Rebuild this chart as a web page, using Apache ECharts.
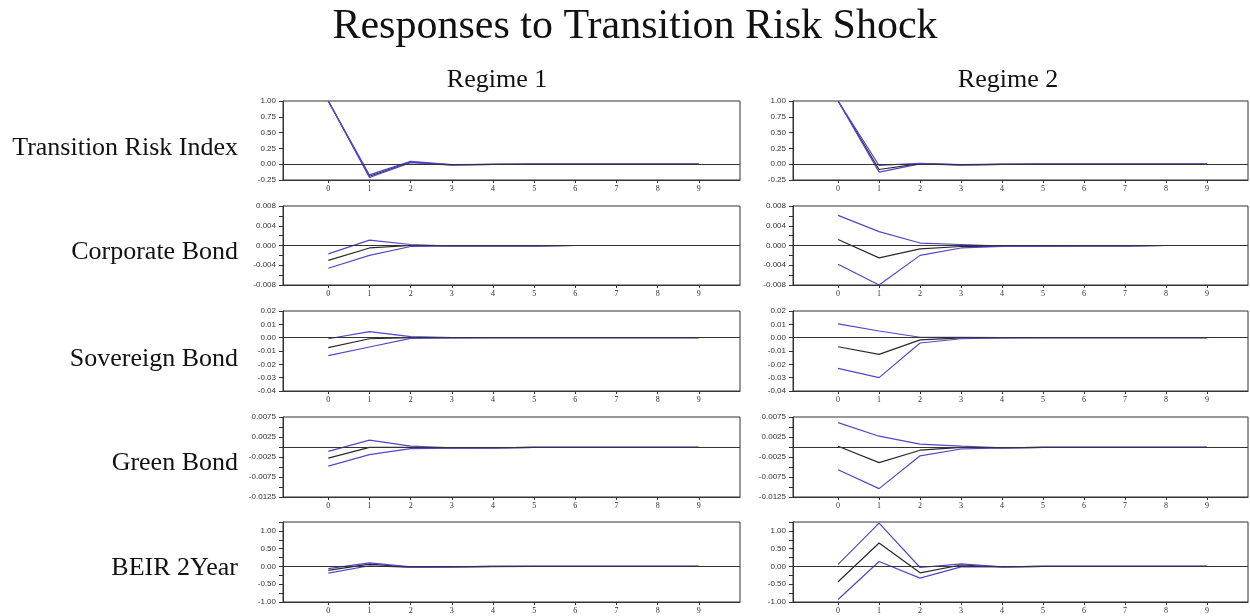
<!DOCTYPE html>
<html>
<head>
<meta charset="utf-8">
<script src="https://cdn.jsdelivr.net/npm/echarts@6/dist/echarts.min.js"></script>
<style>
html,body{margin:0;padding:0;background:#fff;}
#chart{width:1250px;height:616px;}
</style>
</head>
<body>
<div id="chart"></div>
<script>
// ---------- data ----------
const periods = [0, 1, 2, 3, 4, 5, 6, 7, 8, 9];
const regimes = ["Regime 1", "Regime 2"];
const variables = ["Transition Risk Index", "Corporate Bond", "Sovereign Bond", "Green Bond", "BEIR 2Year"];

// Regime 1
const r1_tri_upper = [1, -0.17, 0.045, -0.005, -0.002, 0, 0, 0, 0, 0];
const r1_tri_mid   = [1, -0.19, 0.035, -0.010, -0.003, 0, 0, 0, 0, 0];
const r1_tri_lower = [1, -0.21, 0.025, -0.015, -0.004, 0, 0, 0, 0, 0];

const r1_corp_upper = [-0.0017, 0.0011, 0.0002, -0.0001, -0.0001, -0.0001, 0, 0, 0, 0];
const r1_corp_mid   = [-0.0030, -0.0005, 0.0000, -0.0001, -0.0001, -0.0001, 0, 0, 0, 0];
const r1_corp_lower = [-0.0046, -0.0020, -0.0002, -0.0001, -0.0001, -0.0001, 0, 0, 0, 0];

const r1_sov_upper = [-0.0008, 0.0045, 0.0008, 0.0001, 0, 0, 0, 0, 0, 0];
const r1_sov_mid   = [-0.0075, -0.0008, 0.0000, 0, 0, 0, 0, 0, 0, 0];
const r1_sov_lower = [-0.0135, -0.0070, -0.0005, -0.0001, 0, 0, 0, 0, 0, 0];

const r1_green_upper = [-0.0011, 0.0017, 0.0002, -0.0002, -0.0002, -0.0001, -0.0001, -0.0001, -0.0001, -0.0001];
const r1_green_mid   = [-0.0028, -0.0001, -0.0001, -0.0002, -0.0002, -0.0001, -0.0001, -0.0001, -0.0001, -0.0001];
const r1_green_lower = [-0.0048, -0.0019, -0.0004, -0.0003, -0.0002, -0.0001, -0.0001, -0.0001, -0.0001, -0.0001];

const r1_beir_upper = [-0.06, 0.10, -0.01, -0.010, 0, 0, 0, 0, 0, 0];
const r1_beir_mid   = [-0.11, 0.065, -0.02, -0.010, 0, 0, 0, 0, 0, 0];
const r1_beir_lower = [-0.19, 0.02, -0.03, -0.015, -0.005, 0, 0, 0, 0, 0];

// Regime 2
const r2_tri_upper = [1, -0.020, 0.015, -0.005, 0, 0, 0, 0, 0, 0];
const r2_tri_mid   = [1, -0.084, 0.010, -0.010, -0.002, 0, 0, 0, 0, 0];
const r2_tri_lower = [1, -0.126, 0.005, -0.015, -0.004, 0, 0, 0, 0, 0];

const r2_corp_upper = [0.0061, 0.0028, 0.0005, 0.0002, -0.0001, -0.0001, -0.0001, -0.0001, 0, 0];
const r2_corp_mid   = [0.0012, -0.0025, -0.0007, -0.0002, -0.0002, -0.0001, -0.0001, -0.0001, 0, 0];
const r2_corp_lower = [-0.0038, -0.0080, -0.0020, -0.0005, -0.0002, -0.0002, -0.0001, -0.0001, 0, 0];

const r2_sov_upper = [0.0103, 0.0050, 0.0003, 0.0003, 0, 0, 0, 0, 0, 0];
const r2_sov_mid   = [-0.0068, -0.0125, -0.0017, -0.0002, 0, 0, 0, 0, 0, 0];
const r2_sov_lower = [-0.0230, -0.0300, -0.0040, -0.0008, -0.0002, 0, 0, 0, 0, 0];

const r2_green_upper = [0.0061, 0.0027, 0.0007, 0.0002, -0.0002, -0.0001, -0.0001, -0.0001, -0.0001, -0.0001];
const r2_green_mid   = [0.0002, -0.0039, -0.0008, -0.0001, -0.0002, -0.0001, -0.0001, -0.0001, -0.0001, -0.0001];
const r2_green_lower = [-0.0057, -0.0104, -0.0022, -0.0005, -0.0002, -0.0001, -0.0001, -0.0001, -0.0001, -0.0001];

const r2_beir_upper = [0.06, 1.22, -0.03, 0.075, -0.01, 0, 0, 0, 0, 0];
const r2_beir_mid   = [-0.43, 0.66, -0.18, 0.040, -0.01, 0, 0, 0, 0, 0];
const r2_beir_lower = [-0.93, 0.14, -0.33, -0.010, -0.01, 0, 0, 0, 0, 0];

// tick labels per row
const tri_ticks   = [-0.25, 0, 0.25, 0.5, 0.75, 1];
const corp_ticks  = [-0.008, -0.004, 0, 0.004, 0.008];
const corp_minor  = [-0.008, -0.006, -0.004, -0.002, 0, 0.002, 0.004, 0.006, 0.008];
const sov_ticks   = [-0.04, -0.03, -0.02, -0.01, 0, 0.01, 0.02];
const green_ticks = [-0.0125, -0.0075, -0.0025, 0.0025, 0.0075];
const green_minor = [-0.0125, -0.01, -0.0075, -0.005, -0.0025, 0, 0.0025, 0.005, 0.0075];
const beir_ticks  = [-1, -0.5, 0, 0.5, 1];
const beir_minor  = [-1, -0.75, -0.5, -0.25, 0, 0.25, 0.5, 0.75, 1, 1.25];

// ---------- build ----------
const rows = [
  {ticks: tri_ticks, minor: tri_ticks, min: -0.25, max: 1, dec: 2,
   r1: [r1_tri_upper, r1_tri_mid, r1_tri_lower], r2: [r2_tri_upper, r2_tri_mid, r2_tri_lower]},
  {ticks: corp_ticks, minor: corp_minor, min: -0.008, max: 0.008, dec: 3,
   r1: [r1_corp_upper, r1_corp_mid, r1_corp_lower], r2: [r2_corp_upper, r2_corp_mid, r2_corp_lower]},
  {ticks: sov_ticks, minor: sov_ticks, min: -0.04, max: 0.02, dec: 2,
   r1: [r1_sov_upper, r1_sov_mid, r1_sov_lower], r2: [r2_sov_upper, r2_sov_mid, r2_sov_lower]},
  {ticks: green_ticks, minor: green_minor, min: -0.0125, max: 0.0075, dec: 4,
   r1: [r1_green_upper, r1_green_mid, r1_green_lower], r2: [r2_green_upper, r2_green_mid, r2_green_lower]},
  {ticks: beir_ticks, minor: beir_minor, min: -1, max: 1.25, dec: 2,
   r1: [r1_beir_upper, r1_beir_mid, r1_beir_lower], r2: [r2_beir_upper, r2_beir_mid, r2_beir_lower]}
];

const rowTops = [101, 206, 311, 417, 522];
const rowHeights = [79, 79, 80, 80, 80];
const colLefts = [283, 793];
const colWidths = [457, 455];
const BLUE = '#5048c8';
const BLACK = '#2a2a2a';
const AXIS = '#333';

const grids = [], xAxes = [], yAxes = [], series = [];
let gi = 0;
rows.forEach((row, ri) => {
  [row.r1, row.r2].forEach((lines, ci) => {
    grids.push({left: colLefts[ci], top: rowTops[ri], width: colWidths[ci], height: rowHeights[ri],
      show: true, borderColor: AXIS, borderWidth: 1, backgroundColor: '#fff', containLabel: false});
    xAxes.push({type: 'value', gridIndex: gi, min: -1.1, max: 10,
      axisLine: {show: true, onZero: false, lineStyle: {color: AXIS}},
      axisTick: {show: true, customValues: periods, length: 3, lineStyle: {color: AXIS}},
      axisLabel: {customValues: periods, fontSize: 8, color: '#333', margin: 5, fontFamily: 'Liberation Serif'},
      splitLine: {show: false}});
    const dec = row.dec;
    yAxes.push({type: 'value', gridIndex: gi, min: row.min, max: row.max,
      axisLine: {show: true, onZero: false, lineStyle: {color: AXIS}},
      axisTick: {show: true, customValues: row.minor, length: 4, lineStyle: {color: AXIS}},
      axisLabel: {customValues: row.ticks, fontSize: 8, color: '#333', margin: 7, fontFamily: 'Liberation Sans',
        formatter: v => Number(v).toFixed(dec)},
      splitLine: {show: false}});
    const cols = [BLUE, BLACK, BLUE];
    lines.forEach((arr, li) => {
      const s = {type: 'line', xAxisIndex: gi, yAxisIndex: gi, data: periods.map((p, k) => [p, arr[k]]),
        showSymbol: false, symbol: 'none', silent: true, animation: false,
        lineStyle: {color: cols[li], width: 1.2}, z: li === 1 ? 2 : 3};
      if (li === 1) {
        s.markLine = {silent: true, symbol: 'none', label: {show: false}, animation: false,
          lineStyle: {color: AXIS, width: 1, type: 'solid'}, data: [{yAxis: 0}]};
      }
      series.push(s);
    });
    gi++;
  });
});

const rowCenters = [148, 252, 359, 463, 568];
const graphics = [
  {type: 'text', x: 635, y: 27, style: {text: 'Responses to Transition Risk Shock', textAlign: 'center', textVerticalAlign: 'middle',
    font: '42px "Liberation Serif"', fill: '#111'}},
  {type: 'text', x: 497, y: 80, style: {text: regimes[0], textAlign: 'center', textVerticalAlign: 'middle',
    font: '26px "Liberation Serif"', fill: '#111'}},
  {type: 'text', x: 1008, y: 80, style: {text: regimes[1], textAlign: 'center', textVerticalAlign: 'middle',
    font: '26px "Liberation Serif"', fill: '#111'}}
];
variables.forEach((v, i) => {
  graphics.push({type: 'text', x: 238, y: rowCenters[i], style: {text: v, textAlign: 'right', textVerticalAlign: 'middle',
    font: '26px "Liberation Serif"', fill: '#111'}});
});

const chart = echarts.init(document.getElementById('chart'), null, {renderer: 'canvas'});
chart.setOption({
  animation: false,
  backgroundColor: '#fff',
  grid: grids,
  xAxis: xAxes,
  yAxis: yAxes,
  series: series,
  graphic: graphics
});
</script>
</body>
</html>
